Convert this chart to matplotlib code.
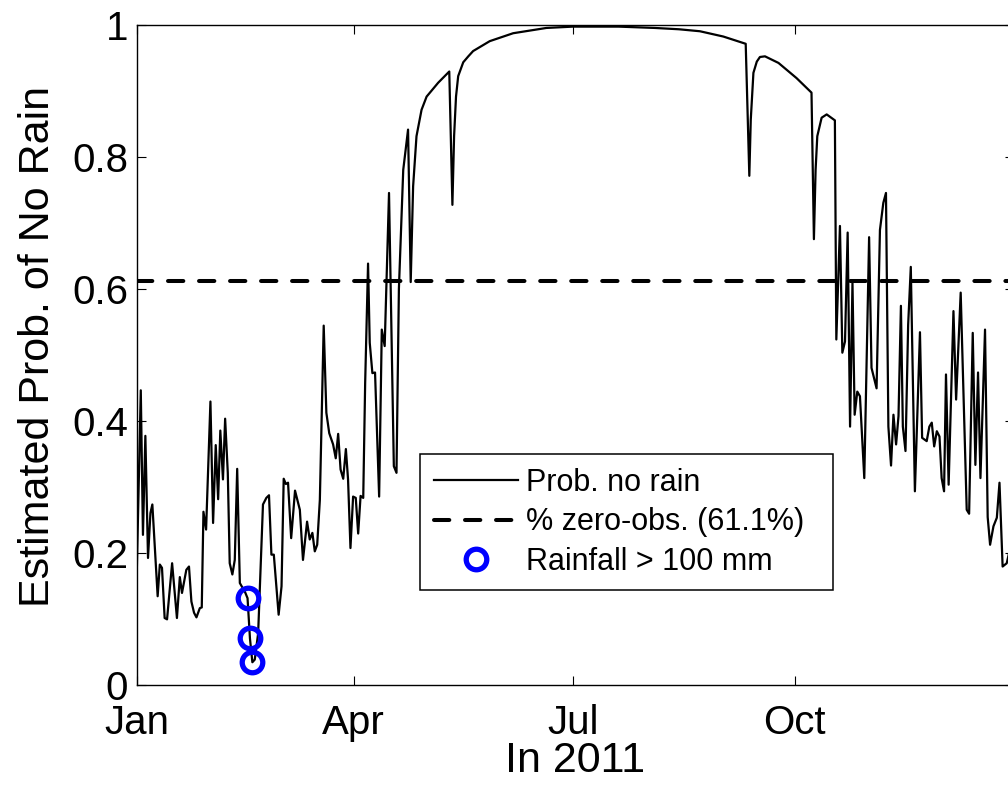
import matplotlib
matplotlib.use('Agg')
import matplotlib.pyplot as plt

# day of year (0 = 1 Jan 2011) and estimated probability of no rain
days = [0, 1.7, 2.6, 3.6, 4.7, 5.7, 6.5, 8.7, 9.6, 10.5, 11.6, 12.6, 14.7, 16.7, 17.9, 18.8,
        20.6, 21.7, 22.7, 23.8, 24.8, 26.2, 27.0, 27.7, 28.8, 30.6, 31.7, 32.8, 33.8, 34.7,
        35.8, 36.7, 37.8, 38.6, 39.7, 40.7, 41.7, 42.8, 45, 46, 47, 48, 49, 50.4, 52.4,
        53.8, 54.9, 55.9, 56.9, 58.9, 60.1, 61.0, 61.9, 62.8, 64.1, 65.7, 67.7, 69.0, 70.7,
        71.8, 72.9, 73.9, 74.9, 76.0, 77.6, 78.7, 79.9, 81.5, 82.6, 83.6, 84.6, 85.7, 86.8,
        87.7, 88.7, 89.8, 90.9, 91.9, 92.9, 94.0, 94.8, 96.0, 96.7, 97.8, 98.9, 100.6, 101.7,
        102.9, 104.7, 106.7, 107.8, 108.8, 110.6, 112.6, 113.7, 114.7, 116.1, 118.2, 120.3,
        125.1, 129.7, 131.0, 131.7, 132.5, 133.4, 135.5, 137.6, 139.6, 146.5, 156.2, 170,
        181, 200, 215, 225, 233.7, 243.4, 252.7, 254.2, 254.8, 255.9, 257.3, 258.6, 260.7,
        266.3, 273.8, 280.0, 281.0, 281.7, 282.4, 284.2, 286.3, 289.7, 290.3, 291.8, 292.8,
        293.9, 295.0, 296.0, 297.0, 297.9, 299.0, 300.1, 301.9, 303.9, 304.9, 307.0, 308.4,
        309.8, 310.9, 311.9, 313.0, 314.0, 315.1, 316.1, 317.1, 317.9, 319.0, 320.1, 321.2,
        322.9, 325.0, 325.9, 327.8, 328.9, 329.9, 330.9, 332.0, 333.1, 334.0, 335.0, 335.8,
        336.9, 338.9, 340.0, 341.9, 344.4, 345.4, 346.9, 348.0, 349.1, 350.1, 352.0, 353.1,
        354.1, 355.5, 356.9, 358.0, 359.3, 361.0, 362, 364]
prob_no_rain = [0.164, 0.446, 0.227, 0.377, 0.192, 0.26, 0.273, 0.134, 0.182, 0.177, 0.101,
                0.099, 0.184, 0.101, 0.163, 0.139, 0.174, 0.179, 0.126, 0.109, 0.102, 0.116,
                0.117, 0.262, 0.235, 0.429, 0.245, 0.363, 0.281, 0.385, 0.311, 0.403, 0.321,
                0.184, 0.167, 0.189, 0.327, 0.154, 0.14, 0.131, 0.07, 0.034, 0.038, 0.078,
                0.273, 0.283, 0.287, 0.197, 0.197, 0.106, 0.149, 0.312, 0.304, 0.306, 0.222,
                0.294, 0.265, 0.189, 0.247, 0.22, 0.23, 0.202, 0.212, 0.28, 0.544, 0.412,
                0.381, 0.364, 0.343, 0.38, 0.326, 0.312, 0.357, 0.311, 0.207, 0.285, 0.283,
                0.229, 0.286, 0.283, 0.457, 0.638, 0.518, 0.472, 0.473, 0.285, 0.538, 0.513,
                0.745, 0.331, 0.321, 0.6, 0.78, 0.841, 0.61, 0.755, 0.831, 0.871, 0.891,
                0.912, 0.929, 0.727, 0.831, 0.891, 0.922, 0.943, 0.952, 0.96, 0.975, 0.987,
                0.995, 0.997, 0.997, 0.995, 0.993, 0.99, 0.982, 0.971, 0.771, 0.856, 0.927,
                0.944, 0.951, 0.952, 0.942, 0.919, 0.897, 0.675, 0.78, 0.831, 0.859, 0.864,
                0.855, 0.523, 0.695, 0.503, 0.52, 0.685, 0.391, 0.609, 0.409, 0.444, 0.437,
                0.313, 0.678, 0.48, 0.449, 0.689, 0.73, 0.745, 0.391, 0.332, 0.409, 0.364,
                0.407, 0.574, 0.391, 0.354, 0.545, 0.633, 0.293, 0.534, 0.374, 0.369, 0.391,
                0.397, 0.361, 0.384, 0.376, 0.313, 0.293, 0.47, 0.303, 0.566, 0.432, 0.594,
                0.265, 0.259, 0.533, 0.333, 0.473, 0.313, 0.538, 0.254, 0.212, 0.24, 0.253,
                0.306, 0.179, 0.184, 0.2, 0.21]

# days with rainfall > 100 mm
rain_days = [46, 47, 48]
rain_probs = [0.131, 0.07, 0.034]

zero_obs = 0.611

month_days = [0, 90, 181, 273]
month_labels = ['Jan', 'Apr', 'Jul', 'Oct']
y_ticks = [0, 0.2, 0.4, 0.6, 0.8, 1]
y_labels = ['0', '0.2', '0.4', '0.6', '0.8', '1']

plt.rcParams['font.family'] = ['Liberation Sans', 'DejaVu Sans']

fig = plt.figure(figsize=(10.08, 7.85), dpi=100)
ax = fig.add_axes([0.1356, 0.1278, 0.8703, 0.8408])

ax.plot(days, prob_no_rain, color='black', lw=1.6, label='Prob. no rain')
ax.axhline(zero_obs, color='black', lw=2.9, dashes=(3.8, 3.9), dash_capstyle='round',
           label='% zero-obs. (61.1%)')
ax.plot(rain_days, rain_probs, 'o', mfc='none', mec='blue', ms=14.8, mew=3.8,
        label='Rainfall > 100 mm')

ax.set_xlim(0, 364)
ax.set_ylim(0, 1)
ax.set_xticks(month_days)
ax.set_xticklabels(month_labels)
ax.set_yticks(y_ticks)
ax.set_yticklabels(y_labels)
ax.tick_params(direction='in', top=True, right=True, length=6.5, width=0.8,
               labelsize=29)
ax.tick_params(axis='x', pad=14)
ax.tick_params(axis='y', pad=6)
for s in ax.spines.values():
    s.set_linewidth(1.0)

ax.set_xlabel('In 2011', fontsize=31)
ax.xaxis.set_label_coords(0.5, -0.086)
ax.set_ylabel('Estimated Prob. of No Rain', fontsize=31)
ax.yaxis.set_label_coords(-0.090, 0.512)

# legend box: left edge 0.323, top 0.3495, width 0.471 (axes fraction)
leg = ax.legend(loc='upper left', bbox_to_anchor=(0.323, 0.1495, 0.471, 0.2),
                mode='expand', borderaxespad=0,
                fontsize=22, handlelength=2.75, handletextpad=0.26, borderpad=0.45,
                labelspacing=0.31, fancybox=False, framealpha=1, numpoints=1)
leg.get_frame().set_edgecolor('black')
leg.get_frame().set_linewidth(1.1)

fig.savefig('out.png', dpi=100)
